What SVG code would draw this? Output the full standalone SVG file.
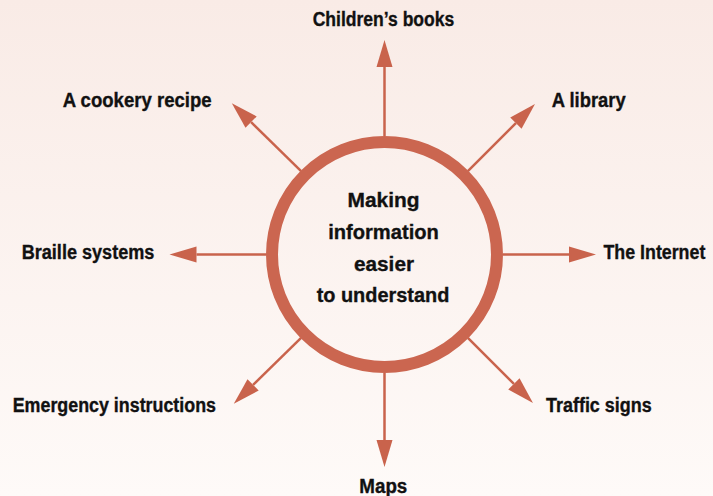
<svg xmlns="http://www.w3.org/2000/svg" width="713" height="496" viewBox="0 0 713 496">
  <defs>
    <linearGradient id="bg" x1="0" y1="0" x2="0" y2="1">
      <stop offset="0" stop-color="#F9EBE6"/>
      <stop offset="1" stop-color="#FEFAF8"/>
    </linearGradient>
    <marker id="head" markerUnits="userSpaceOnUse" markerWidth="28" markerHeight="16" refX="0" refY="8" orient="auto" viewBox="0 0 28 16" overflow="visible">
      <path d="M0,0 L27,8 L0,16 Z" fill="#C9634C"/>
    </marker>
    <style>
      .lbl { font-family: "Liberation Sans", Arial, sans-serif; font-weight: bold; font-size: 20px; fill: #111; stroke: #111; stroke-width: 0.35; }
      .hub { font-family: "Liberation Sans", Arial, sans-serif; font-weight: bold; font-size: 21px; fill: #111; stroke: #111; stroke-width: 0.35; text-anchor: middle; }
      .arrow { stroke: #C9634C; stroke-width: 2.5; fill: none; marker-end: url(#head); }
    </style>
  </defs>

  <rect x="0" y="0" width="713" height="496" fill="url(#bg)"/>

  <!-- spokes from the ring outwards -->
  <g id="connectors">
    <line class="arrow" x1="384.5" y1="136" x2="384.5" y2="67"/>
    <line class="arrow" x1="467.9" y1="171.1" x2="515.9" y2="123.1"/>
    <line class="arrow" x1="503" y1="254.5" x2="569" y2="254.5"/>
    <line class="arrow" x1="467.9" y1="337.9" x2="513.9" y2="383.9"/>
    <line class="arrow" x1="384.5" y1="373" x2="384.5" y2="440"/>
    <line class="arrow" x1="301.1" y1="337.9" x2="253.1" y2="384.9"/>
    <line class="arrow" x1="266" y1="254.5" x2="196.5" y2="254.5"/>
    <line class="arrow" x1="301.1" y1="171.1" x2="251.1" y2="122.1"/>
  </g>

  <g id="hub">
    <circle cx="384.5" cy="254.5" r="112.5" fill="none" stroke="#CB6650" stroke-width="12"/>
    <text class="hub" x="383.5" y="207" textLength="72" lengthAdjust="spacingAndGlyphs">Making</text>
    <text class="hub" x="383.5" y="239" textLength="110.7" lengthAdjust="spacingAndGlyphs">information</text>
    <text class="hub" x="384" y="270.5" textLength="60" lengthAdjust="spacingAndGlyphs">easier</text>
    <text class="hub" x="383" y="302.3" textLength="132.7" lengthAdjust="spacingAndGlyphs">to understand</text>
  </g>

  <g id="childrens-books">
    <text class="lbl" x="312.7" y="26" textLength="141.6" lengthAdjust="spacingAndGlyphs">Children’s books</text>
  </g>
  <g id="library">
    <text class="lbl" x="551.7" y="106.7" textLength="74" lengthAdjust="spacingAndGlyphs">A library</text>
  </g>
  <g id="internet">
    <!-- narrowed by a horizontal scale so it fits at the right margin -->
    <text class="lbl" transform="translate(603.5,259.3) scale(0.89,1)" x="0" y="0">The Internet</text>
  </g>
  <g id="traffic-signs">
    <text class="lbl" x="546" y="411.7" textLength="105.7" lengthAdjust="spacingAndGlyphs">Traffic signs</text>
  </g>
  <g id="maps">
    <text class="lbl" x="359.3" y="492.5" textLength="48" lengthAdjust="spacingAndGlyphs">Maps</text>
  </g>
  <g id="emergency-instructions">
    <text class="lbl" x="12.7" y="411.7" textLength="203.3" lengthAdjust="spacingAndGlyphs">Emergency instructions</text>
  </g>
  <g id="braille-systems">
    <text class="lbl" x="21.7" y="259.3" textLength="132.7" lengthAdjust="spacingAndGlyphs">Braille systems</text>
  </g>
  <g id="cookery-recipe">
    <text class="lbl" x="62.7" y="106.7" textLength="149" lengthAdjust="spacingAndGlyphs">A cookery recipe</text>
  </g>
</svg>
